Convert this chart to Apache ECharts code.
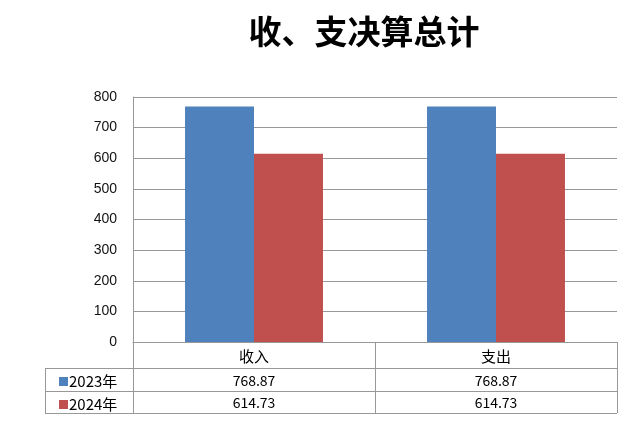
<!DOCTYPE html>
<html>
<head>
<meta charset="utf-8">
<script src="https://cdn.jsdelivr.net/npm/echarts@6/dist/echarts.min.js"></script>
<style>
  html, body { margin: 0; padding: 0; background: #fff; }
  #chart { width: 640px; height: 435px; }
</style>
</head>
<body>
<div id="chart"></div>
<script>
const titleText = '收、支决算总计'
const categories = ['收入', '支出']
const seriesNames = ['2023年', '2024年']
const values2023 = [768.87, 768.87]
const values2024 = [614.73, 614.73]
const colors = ['#4F81BD', '#C0504D']

const cjkFont = '"Noto Sans CJK SC", "Noto Sans CJK JP", sans-serif'
const lineColor = '#989898'

const chart = echarts.init(document.getElementById('chart'), null, { renderer: 'canvas' })

// 表格下面几行的数值用额外的 x 轴显示
const tableAxis = (offset, vals) => ({
  type: 'category',
  data: categories,
  position: 'bottom',
  offset: offset,
  axisLine: { show: false },
  axisTick: { show: false },
  axisLabel: {
    margin: 7,
    color: '#000',
    fontFamily: cjkFont,
    fontSize: 14,
    formatter: (v, i) => vals[i].toFixed(2),
  },
})

const option = {
  animation: false,
  backgroundColor: '#fff',
  title: {
    text: titleText,
    left: 359,
    top: 10,
    textAlign: 'center',
    textStyle: { fontFamily: cjkFont, fontWeight: 'bold', fontSize: 33, color: '#000' },
  },
  legend: {
    orient: 'vertical',
    left: 54,
    top: 369,
    itemWidth: 9,
    itemHeight: 9,
    itemGap: 8,
    icon: 'rect',
    selectedMode: false,
    textStyle: { fontFamily: cjkFont, fontSize: 15, color: '#000', padding: [0, 0, 0, -4] },
    data: seriesNames,
  },
  grid: { left: 133, right: 23, top: 97, bottom: 93 },
  xAxis: [
    {
      type: 'category',
      data: categories,
      axisLine: { show: true, lineStyle: { color: lineColor } },
      axisTick: { show: true, length: 71, lineStyle: { color: lineColor } },
      axisLabel: { margin: 7, color: '#000', fontFamily: cjkFont, fontSize: 15 },
    },
    tableAxis(25, values2023),
    tableAxis(47, values2024),
  ],
  yAxis: {
    type: 'value',
    min: 0,
    max: 800,
    interval: 100,
    axisLine: { show: true, lineStyle: { color: lineColor } },
    axisTick: { show: false },
    axisLabel: { margin: 16, color: '#111', fontFamily: 'Liberation Sans, Arial', fontSize: 14 },
    splitLine: { show: true, lineStyle: { color: lineColor } },
  },
  series: [
    {
      name: seriesNames[0],
      type: 'bar',
      data: values2023,
      itemStyle: { color: colors[0] },
      barGap: '0%',
      barCategoryGap: '43%',
    },
    {
      name: seriesNames[1],
      type: 'bar',
      data: values2024,
      itemStyle: { color: colors[1] },
      barGap: '0%',
      barCategoryGap: '43%',
    },
  ],
  graphic: [
    // 表格的横线和左边框
    { type: 'line', shape: { x1: 45, y1: 368.5, x2: 617, y2: 368.5 }, style: { stroke: lineColor, lineWidth: 1 } },
    { type: 'line', shape: { x1: 45, y1: 391.5, x2: 617, y2: 391.5 }, style: { stroke: lineColor, lineWidth: 1 } },
    { type: 'line', shape: { x1: 45, y1: 413.5, x2: 617, y2: 413.5 }, style: { stroke: lineColor, lineWidth: 1 } },
    { type: 'line', shape: { x1: 45.5, y1: 368, x2: 45.5, y2: 414 }, style: { stroke: lineColor, lineWidth: 1 } },
  ],
}

chart.setOption(option)
</script>
</body>
</html>
